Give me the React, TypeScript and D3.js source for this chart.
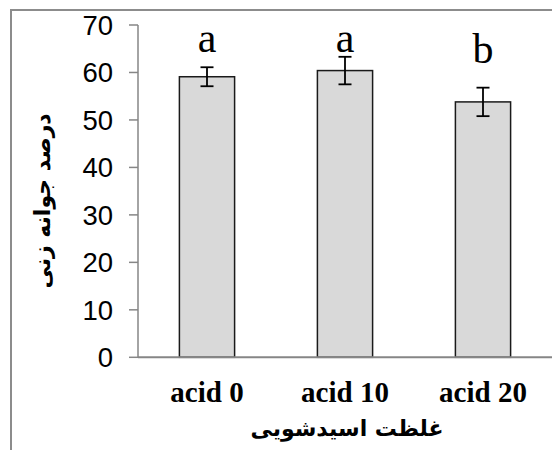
import React from "react";
import * as d3 from "d3";

const categories = ["acid 0", "acid 10", "acid 20"];
const values = [59.1, 60.4, 53.8];
const errors = [2.0, 2.9, 3.0];
const letters = ["a", "a", "b"];
const letterPos = [64.3, 64.3, 62.0];
const yTicks = [0, 10, 20, 30, 40, 50, 60, 70];
const xTitle = "غلظت اسیدشویی";
const yTitle = "درصد جوانه زنی";

const W = 552;
const H = 450;

export default function App() {
  const x = d3
    .scaleBand<string>()
    .domain(categories)
    .range([138, 552])
    .paddingInner(0.6)
    .paddingOuter(0.3);
  const y = d3.scaleLinear().domain([0, 70]).range([357.3, 25]);
  const bw = x.bandwidth();
  const axisColor = "#868686";

  return (
    <svg
      width={W}
      height={H}
      style={{ position: "absolute", left: 0, top: 0, display: "block" }}
    >
      <rect x={0} y={0} width={W} height={H} fill="#fff" />
      {/* outer border */}
      <path d={`M11,${H} L11,10 L${W},10`} fill="none" stroke="#8c8c8c" strokeWidth={2} />

      {/* bars */}
      {categories.map((c, i) => (
        <rect
          key={c}
          x={x(c)!}
          y={y(values[i])}
          width={bw}
          height={y(0) - y(values[i])}
          fill="#d9d9d9"
          stroke="#1a1a1a"
          strokeWidth={1.5}
        />
      ))}

      {/* axes */}
      <line x1={138} x2={138} y1={y(70)} y2={y(0)} stroke={axisColor} strokeWidth={1.5} />
      <line x1={138} x2={W} y1={y(0)} y2={y(0)} stroke={axisColor} strokeWidth={2} />
      {yTicks.map((t) => (
        <g key={t}>
          <line x1={129} x2={138} y1={y(t)} y2={y(t)} stroke={axisColor} strokeWidth={1.5} />
          <text
            x={113}
            y={y(t)}
            dy="0.36em"
            textAnchor="end"
            fontFamily="'Liberation Sans', Arial, sans-serif"
            fontSize={27.5}
            fill="#000"
          >
            {t}
          </text>
        </g>
      ))}

      {/* error bars */}
      {categories.map((c, i) => {
        const cx = x(c)! + bw / 2;
        const y1 = y(values[i] + errors[i]);
        const y2 = y(values[i] - errors[i]);
        return (
          <g key={c} stroke="#000" strokeWidth={1.8}>
            <line x1={cx} x2={cx} y1={y1} y2={y2} />
            <line x1={cx - 6.5} x2={cx + 6.5} y1={y1} y2={y1} />
            <line x1={cx - 6.5} x2={cx + 6.5} y1={y2} y2={y2} />
          </g>
        );
      })}

      {/* significance letters */}
      {categories.map((c, i) => (
        <text
          key={c}
          x={x(c)! + bw / 2}
          y={y(letterPos[i])}
          textAnchor="middle"
          fontFamily="'Liberation Serif', 'Times New Roman', serif"
          fontSize={42}
          fill="#000"
        >
          {letters[i]}
        </text>
      ))}

      {/* category labels */}
      {categories.map((c) => (
        <text
          key={c}
          x={x(c)! + bw / 2}
          y={402}
          textAnchor="middle"
          fontFamily="'Liberation Serif', 'Times New Roman', serif"
          fontWeight="bold"
          fontSize={29}
          fill="#000"
        >
          {c}
        </text>
      ))}

      {/* axis titles */}
      <text
        x={347}
        y={436}
        textAnchor="middle"
        direction="rtl"
        fontFamily="'DejaVu Sans', sans-serif"
        fontWeight="bold"
        fontSize={22}
        fill="#000"
      >
        {xTitle}
      </text>
      <text
        transform={`translate(50,201) rotate(-90)`}
        textAnchor="middle"
        direction="rtl"
        fontFamily="'DejaVu Sans', sans-serif"
        fontWeight="bold"
        fontSize={22}
        fill="#000"
      >
        {yTitle}
      </text>
    </svg>
  );
}
